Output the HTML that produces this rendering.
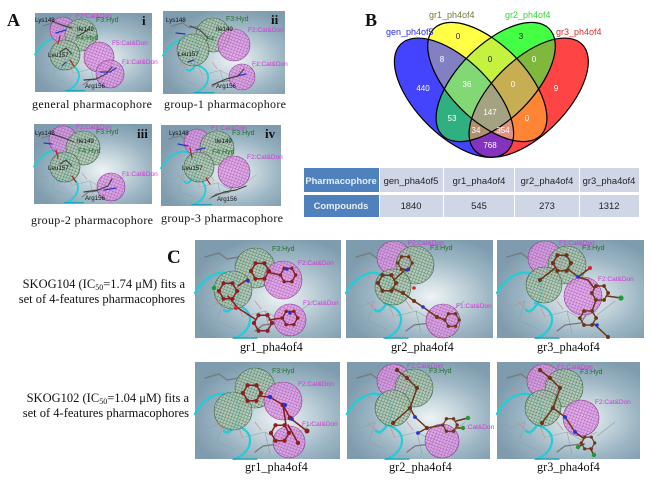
<!DOCTYPE html>
<html><head><meta charset="utf-8"><title>Pharmacophore figure</title>
<style>
html,body{margin:0;padding:0;background:#fff}
svg{display:block}
.s{font-family:"Liberation Serif",serif;fill:#111}
.a{font-family:"Liberation Sans",sans-serif}
.m{fill:#d535d5;font-size:6.5px}
.g{fill:#26702e;font-size:7px}
.k{fill:#111;font-size:6.2px}
.p{fill:url(#mp);stroke:#8f3c90;stroke-width:.6}
.h{fill:url(#mg);stroke:#44684c;stroke-width:.6}
.v{font-family:"Liberation Sans",sans-serif;font-size:8px;fill:#fff;text-anchor:middle}
.t{font-family:"Liberation Sans",sans-serif;font-size:9.4px;fill:#222;text-anchor:middle}
.th{font-family:"Liberation Sans",sans-serif;font-size:9.4px;font-weight:bold;fill:#e8eef6;text-anchor:middle}
.b{fill:none;stroke-linecap:round;stroke-linejoin:round}
</style></head><body>
<svg xmlns="http://www.w3.org/2000/svg" width="650" height="488" viewBox="0 0 650 488">
<defs>
<radialGradient id="bg" cx="58%" cy="58%" r="62%">
<stop offset="0" stop-color="#eef3f5"/><stop offset=".25" stop-color="#d0dde3"/><stop offset=".65" stop-color="#9db6c4"/><stop offset="1" stop-color="#7e9cae"/>
</radialGradient>
<pattern id="mp" width="3" height="3" patternUnits="userSpaceOnUse" patternTransform="rotate(20)">
<rect width="3" height="3" fill="#dc9fe2" fill-opacity=".8"/><path d="M0 0H3M0 0V3" stroke="#a63fae" stroke-width=".7" stroke-opacity=".85"/>
</pattern>
<pattern id="mg" width="3" height="3" patternUnits="userSpaceOnUse" patternTransform="rotate(20)">
<rect width="3" height="3" fill="#b2c8b5" fill-opacity=".78"/><path d="M0 0H3M0 0V3" stroke="#3f6e49" stroke-width=".7" stroke-opacity=".9"/>
</pattern>
<g id="rib">
<path class="b" stroke="#8fa0aa" stroke-width=".6" d="M0 60L14 66L28 60L22 80L40 88M8 80L22 92M50 75L70 70L84 78L100 70M70 70L75 92M100 74L118 60"/>
<path class="b" stroke="#d08a8a" stroke-width=".7" d="M15 25L25 38M20 60L34 72M42 62L48 76M60 60L66 68"/>
<path class="b" stroke="#777" stroke-width="1.2" d="M10 16L24 12L32 18L44 16L50 22M60 90L68 84L84 82L90 72"/>
<path class="b" stroke="#22ccd8" stroke-width="2.4" d="M0 52C8 38 22 28 34 33C46 38 48 54 38 66C34 71 31 71 29 69"/>
<path class="b" stroke="#22ccd8" stroke-width="2.2" d="M38 62C50 66 58 72 54 84C51 92 44 95 40 97"/>
<path class="b" stroke="#22a4b8" stroke-width="1.4" d="M38 97L62 97"/>
</g>
<g id="ring"><polygon class="b" stroke="currentColor" stroke-width="1.5" points="9,0 4.5,7.8 -4.5,7.8 -9,0 -4.5,-7.8 4.5,-7.8"/>
<g fill="currentColor"><circle cx="9" cy="0" r="2.1"/><circle cx="4.5" cy="7.8" r="2.1"/><circle cx="-4.5" cy="7.8" r="2.1"/><circle cx="-9" cy="0" r="2.1"/><circle cx="-4.5" cy="-7.8" r="2.1"/><circle cx="4.5" cy="-7.8" r="2.1"/></g></g>
<ellipse id="eB" cx="454" cy="97.7" rx="75.5" ry="37.5" transform="rotate(45 454 97.7)"/>
<ellipse id="eY" cx="487.3" cy="82" rx="75.5" ry="37.5" transform="rotate(45 487.3 82)"/>
<ellipse id="eG" cx="495.7" cy="82" rx="75.5" ry="37.5" transform="rotate(-45 495.7 82)"/>
<ellipse id="eR" cx="528.7" cy="97.7" rx="75.5" ry="37.5" transform="rotate(-45 528.7 97.7)"/>
<clipPath id="cB"><use href="#eB"/></clipPath>
<clipPath id="cY"><use href="#eY"/></clipPath>
<clipPath id="cG"><use href="#eG"/></clipPath>
<clipPath id="cR"><use href="#eR"/></clipPath>
</defs>
<rect width="650" height="488" fill="#fff"/>

<!-- Panel A -->
<text class="s" x="7" y="26" font-size="18" font-weight="bold">A</text>
<rect x="35" y="13" width="117" height="79" fill="url(#bg)"/>
<rect x="163" y="11" width="122" height="83" fill="url(#bg)"/>
<rect x="34" y="124" width="118" height="80" fill="url(#bg)"/>
<rect x="161" y="125" width="120" height="81" fill="url(#bg)"/>
<use href="#rib" transform="translate(35 13) scale(.8)"/>
<use href="#rib" transform="translate(163 13) scale(.82)"/>
<use href="#rib" transform="translate(34 125) scale(.8)"/>
<use href="#rib" transform="translate(161 126) scale(.81)"/>

<circle class="p" cx="63" cy="30" r="13"/><circle class="h" cx="81" cy="35" r="16"/><circle class="h" cx="65" cy="55" r="15"/><circle class="p" cx="99" cy="57" r="15"/><circle class="p" cx="110" cy="74" r="14"/>
<circle class="h" cx="213" cy="35" r="17"/><circle class="p" cx="234" cy="45" r="16"/><circle class="h" cx="193" cy="50" r="16"/><circle class="p" cx="242" cy="77" r="13"/>
<circle class="p" cx="63" cy="140" r="14"/><circle class="h" cx="83" cy="148" r="17"/><circle class="h" cx="65" cy="167" r="15"/><circle class="p" cx="111" cy="187" r="14"/>
<circle class="p" cx="197" cy="142" r="13"/><circle class="h" cx="217" cy="148" r="17"/><circle class="h" cx="199" cy="167" r="15"/><circle class="p" cx="234" cy="172" r="16"/>
<g class="b" stroke-width="1.2">
<path stroke="#2b35c8" d="M56 33L66 30M100 72L110 72L116 68M66 62L62 66M185 34L176 33M237 76L246 74M188 62L194 60M52 144L44 143M104 190L116 188M188 146L178 144M205 148L196 150"/>
<path stroke="#444" d="M52 21L62 25L72 28M78 36L88 30M60 52L66 48L72 54M84 80L96 79L106 74L112 67M190 26L200 30L208 38M212 85L226 79L238 76L244 69M52 134L64 138L74 142M60 164L66 160L72 166M84 192L98 190L108 186L112 179M212 197L224 192L236 190L246 186"/>
<path stroke="#b72020" d="M60 36L58 44M70 60L74 66M56 150L58 158M72 176L76 182M190 148L192 158M206 178L210 184"/>
</g>
<g class="a">
<text class="k" x="35" y="22">Lys148</text><text class="k" x="77" y="31">Ile149</text><text class="k" x="48" y="57">Leu157</text><text class="k" x="85" y="88">Arg156</text>
<text class="m" x="76" y="18">F2:Cat&amp;Don</text><text class="g" x="96" y="22">F3:Hyd</text><text class="g" x="76" y="40" font-size="6">F4:Hyd</text><text class="m" x="112" y="45">F5:Cat&amp;Don</text><text class="m" x="122" y="64">F1:Cat&amp;Don</text>
<text class="k" x="166" y="22">Lys148</text><text class="k" x="216" y="31">Ile149</text><text class="k" x="178" y="56">Leu157</text><text class="k" x="216" y="88">Arg156</text>
<text class="g" x="226" y="21">F3:Hyd</text><text class="m" x="248" y="32">F2:Cat&amp;Don</text><text class="g" x="206" y="41" font-size="6">F4:</text><text class="m" x="252" y="66">F1:Cat&amp;Don</text>
<text class="k" x="35" y="135">Lys148</text><text class="k" x="77" y="143">Ile149</text><text class="k" x="48" y="170">Leu157</text><text class="k" x="85" y="200">Arg156</text>
<text class="m" x="76" y="129">F2:Cat&amp;Don</text><text class="g" x="96" y="134">F3:Hyd</text><text class="g" x="78" y="153" font-size="6">F4:Hyd</text><text class="m" x="122" y="176">F1:Cat&amp;Don</text>
<text class="k" x="169" y="135">Lys148</text><text class="k" x="215" y="143">Ile149</text><text class="k" x="182" y="170">Leu157</text><text class="k" x="217" y="201">Arg156</text>
<text class="m" x="211" y="130">F1:Cat&amp;Don</text><text class="g" x="232" y="135">F3:Hyd</text><text class="g" x="212" y="154" font-size="6">F4:Hyd</text><text class="m" x="247" y="159">F2:Cat&amp;Don</text>
</g>
<text class="s" x="32" y="108" font-size="12" textLength="120">general  pharmacophore</text>
<text class="s" x="164" y="108" font-size="12" textLength="122">group-1  pharmacophore</text>
<text class="s" x="31" y="224" font-size="12" textLength="122">group-2  pharmacophore</text>
<text class="s" x="161" y="222" font-size="12" textLength="122">group-3  pharmacophore</text>
<text class="s" x="142" y="25" font-size="13" font-weight="bold">i</text>
<text class="s" x="271" y="24" font-size="13" font-weight="bold">ii</text>
<text class="s" x="137" y="138" font-size="13" font-weight="bold">iii</text>
<text class="s" x="265" y="138" font-size="13" font-weight="bold">iv</text>

<!-- Panel B -->
<text class="s" x="365" y="26" font-size="18" font-weight="bold">B</text>
<use href="#eB" fill="#4444ff"/><use href="#eY" fill="#ffff45"/><use href="#eG" fill="#44ff44"/><use href="#eR" fill="#ff4444"/>
<g clip-path="url(#cB)"><use href="#eY" fill="#8080c2"/><use href="#eG" fill="#30b080"/><use href="#eR" fill="#8434bc"/></g>
<g clip-path="url(#cY)"><use href="#eG" fill="#c4f23f"/><use href="#eR" fill="#ff8433"/></g>
<g clip-path="url(#cG)"><use href="#eR" fill="#80b83e"/></g>
<g clip-path="url(#cB)"><g clip-path="url(#cY)"><use href="#eG" fill="#82d874"/><use href="#eR" fill="#e09080"/></g><g clip-path="url(#cG)"><use href="#eR" fill="#b09070"/></g></g>
<g clip-path="url(#cY)"><g clip-path="url(#cG)"><use href="#eR" fill="#c8ae52"/></g></g>
<g clip-path="url(#cB)"><g clip-path="url(#cY)"><g clip-path="url(#cG)"><use href="#eR" fill="#a3a384"/></g></g></g>
<g fill="none" stroke="#000" stroke-width="1.2"><use href="#eB"/><use href="#eY"/><use href="#eG"/><use href="#eR"/></g>
<g class="a" font-size="9">
<text x="386" y="35" fill="#2a2ae0">gen_ph4of5</text>
<text x="429" y="18" fill="#77773a">gr1_ph4of4</text>
<text x="505" y="18" fill="#33d633">gr2_ph4of4</text>
<text x="556" y="35" fill="#e02a2a">gr3_ph4of4</text>
</g>
<g class="v">
<text x="423" y="91">440</text><text x="442" y="62">8</text><text x="467" y="87">36</text><text x="452" y="121">53</text><text x="476" y="133">34</text><text x="490" y="115">147</text><text x="503" y="133">354</text><text x="490" y="148">768</text><text x="513" y="87">0</text><text x="527" y="121">0</text><text x="534" y="62">0</text><text x="556" y="91">9</text>
<text x="490" y="62" fill="#222">0</text><text x="458" y="39" fill="#222">0</text><text x="521" y="39" fill="#222">3</text>
</g>
<rect x="304" y="168" width="75" height="24" fill="#4f81bd"/><rect x="304" y="195" width="75" height="22" fill="#4f81bd"/>
<g fill="#cfd7e7">
<rect x="380" y="168" width="63" height="24"/><rect x="444" y="168" width="70" height="24"/><rect x="515" y="168" width="64" height="24"/><rect x="580" y="168" width="59" height="24"/>
<rect x="380" y="195" width="63" height="22"/><rect x="444" y="195" width="70" height="22"/><rect x="515" y="195" width="64" height="22"/><rect x="580" y="195" width="59" height="22"/>
</g>
<text class="th" x="341" y="184">Pharmacophore</text><text class="th" x="341" y="209">Compounds</text>
<text class="t" x="411" y="184">gen_pha4of5</text><text class="t" x="479" y="184">gr1_pha4of4</text><text class="t" x="547" y="184">gr2_pha4of4</text><text class="t" x="609" y="184">gr3_pha4of4</text>
<text class="t" x="411" y="209">1840</text><text class="t" x="479" y="209">545</text><text class="t" x="547" y="209">273</text><text class="t" x="609" y="209">1312</text>

<!-- Panel C -->
<text class="s" x="167" y="263" font-size="19" font-weight="bold">C</text>
<text class="s" x="185" y="288" font-size="12.5" text-anchor="end">SKOG104 (IC<tspan font-size="8" dy="2">50</tspan><tspan dy="-2">=1.74 μM) fits a</tspan></text>
<text class="s" x="185" y="303" font-size="12.5" text-anchor="end">set of 4-features pharmacophores</text>
<text class="s" x="189" y="402" font-size="12.5" text-anchor="end">SKOG102 (IC<tspan font-size="8" dy="2">50</tspan><tspan dy="-2">=1.04 μM) fits a</tspan></text>
<text class="s" x="189" y="417" font-size="12.5" text-anchor="end">set of 4-features pharmacophores</text>

<rect x="195" y="240" width="146" height="98" fill="url(#bg)"/><rect x="346" y="240" width="147" height="98" fill="url(#bg)"/><rect x="497" y="240" width="147" height="98" fill="url(#bg)"/>
<rect x="195" y="362" width="145" height="97" fill="url(#bg)"/><rect x="347" y="362" width="143" height="97" fill="url(#bg)"/><rect x="497" y="362" width="143" height="97" fill="url(#bg)"/>
<use href="#rib" transform="translate(195 241)"/><use href="#rib" transform="translate(346 241)"/><use href="#rib" transform="translate(497 241)"/>
<use href="#rib" transform="translate(195 362)"/><use href="#rib" transform="translate(347 362)"/><use href="#rib" transform="translate(497 362)"/>

<circle class="h" cx="255" cy="268" r="20"/><circle class="h" cx="233" cy="290" r="19"/><circle class="p" cx="283" cy="280" r="19"/><circle class="p" cx="290" cy="320" r="16"/>
<circle class="p" cx="394" cy="258" r="17"/><circle class="h" cx="415" cy="265" r="19"/><circle class="h" cx="393" cy="287" r="18"/><circle class="p" cx="443" cy="321" r="17"/>
<circle class="p" cx="545" cy="258" r="17"/><circle class="h" cx="567" cy="265" r="19"/><circle class="h" cx="544" cy="285" r="18"/><circle class="p" cx="583" cy="296" r="19"/>
<circle class="h" cx="255" cy="388" r="20"/><circle class="h" cx="233" cy="411" r="19"/><circle class="p" cx="283" cy="401" r="19"/><circle class="p" cx="289" cy="442" r="16"/>
<circle class="p" cx="394" cy="381" r="17"/><circle class="h" cx="414" cy="388" r="19"/><circle class="h" cx="393" cy="408" r="18"/><circle class="p" cx="442" cy="441" r="17"/>
<circle class="p" cx="544" cy="381" r="17"/><circle class="h" cx="564" cy="388" r="19"/><circle class="h" cx="543" cy="408" r="18"/><circle class="p" cx="581" cy="418" r="18"/>

<!-- molecules -->
<g color="#8b1f1f">
<g class="b" stroke="#8b1f1f" stroke-width="1.5"><path d="M267 272L280 275M228 296L238 308L255 319M269 320L282 318M248 279L238 286"/></g>
<use href="#ring" transform="translate(260 271)"/><use href="#ring" transform="translate(288 275) scale(.85)"/><use href="#ring" transform="translate(228 291)"/><use href="#ring" transform="translate(263 323)"/><use href="#ring" transform="translate(290 318) scale(.85)"/>
<circle cx="214" cy="288" r="2.2" fill="#1f9a30"/><circle cx="248" cy="281" r="1.8" fill="#2233dd"/><circle cx="236" cy="308" r="2" fill="#dd2222"/><circle cx="287" cy="269" r="1.8" fill="#2233dd"/><circle cx="290" cy="313" r="1.8" fill="#2233dd"/>
</g>
<g color="#6d3418">
<g class="b" stroke="#6d3418" stroke-width="1.5"><path d="M405 270L394 280M392 288L403 293L414 301L423 307L437 317L445 320"/></g>
<use href="#ring" transform="translate(405 263) scale(.8)"/><use href="#ring" transform="translate(387 283)"/><use href="#ring" transform="translate(452 320) scale(.8)"/>
<circle cx="423" cy="307" r="1.8" fill="#2233dd"/><circle cx="407" cy="270" r="1.8" fill="#2233dd"/><circle cx="414" cy="288" r="1.8" fill="#dd2222"/><circle cx="403" cy="293" r="2" fill="#6d3418"/><circle cx="414" cy="301" r="2" fill="#6d3418"/><circle cx="437" cy="317" r="2" fill="#6d3418"/>
</g>
<g color="#6d3418">
<g class="b" stroke="#6d3418" stroke-width="1.5"><path d="M568 269L578 277L588 280L594 288M555 268L540 280M578 277L590 268M607 296L621 298M596 300L592 311M594 324L608 337"/></g>
<use href="#ring" transform="translate(562 263)"/><use href="#ring" transform="translate(600 293) scale(.9)"/><use href="#ring" transform="translate(588 318) scale(.9)"/>
<circle cx="540" cy="280" r="2.1" fill="#6d3418"/><circle cx="590" cy="268" r="2" fill="#dd2222"/><circle cx="621" cy="298" r="2.6" fill="#1f9a30"/><circle cx="578" cy="277" r="1.8" fill="#2233dd"/><circle cx="597" cy="325" r="1.8" fill="#2233dd"/><circle cx="608" cy="337" r="2" fill="#6d3418"/>
</g>
<g color="#8b1f1f">
<g class="b" stroke="#8b1f1f" stroke-width="1.6"><path d="M258 396L270 397L283 405L290 418L307 431M283 405L286 425M288 425L298 443"/></g>
<use href="#ring" transform="translate(252 393)"/><use href="#ring" transform="translate(280 433)"/>
<circle cx="270" cy="397" r="2.1" fill="#2233dd"/><circle cx="283" cy="405" r="2.4" fill="#8b1f1f"/><circle cx="290" cy="418" r="2.4" fill="#8b1f1f"/><circle cx="307" cy="431" r="2.5" fill="#8b1f1f"/><circle cx="298" cy="443" r="2.1" fill="#8b1f1f"/><circle cx="285" cy="405" r="2" fill="#2233dd"/><circle cx="292" cy="419" r="1.9" fill="#2233dd"/>
</g>
<g color="#6d3418">
<g class="b" stroke="#6d3418" stroke-width="1.5"><path d="M397 370L407 378L417 388L410 408L393 423M410 408L415 417L427 428L443 425M456 421L468 418M456 428L463 428M427 428L418 433"/></g>
<g fill="#6d3418"><circle cx="397" cy="370" r="2.1"/><circle cx="407" cy="378" r="2.1"/><circle cx="417" cy="388" r="2.1"/><circle cx="410" cy="408" r="2.1"/><circle cx="393" cy="423" r="2.1"/><circle cx="427" cy="428" r="2.1"/></g><circle cx="415" cy="417" r="1.9" fill="#2233dd"/><circle cx="418" cy="433" r="1.9" fill="#2233dd"/>
<use href="#ring" transform="translate(450 425) scale(.8)"/><circle cx="468" cy="418" r="2.2" fill="#1f9a30"/><circle cx="463" cy="428" r="2.2" fill="#1f9a30"/>
</g>
<g color="#6d3418">
<g class="b" stroke="#6d3418" stroke-width="1.5"><path d="M540 370L550 378L560 388L553 408L542 423M553 408L565 417L575 432L583 438M578 447L584 444M594 455L590 448"/></g>
<g fill="#6d3418"><circle cx="540" cy="370" r="2.1"/><circle cx="550" cy="378" r="2.1"/><circle cx="560" cy="388" r="2.1"/><circle cx="553" cy="408" r="2.1"/><circle cx="542" cy="423" r="2.1"/></g><circle cx="565" cy="417" r="1.9" fill="#2233dd"/><circle cx="575" cy="432" r="1.9" fill="#2233dd"/>
<use href="#ring" transform="translate(588 443) scale(.75)"/><circle cx="578" cy="447" r="2.2" fill="#1f9a30"/><circle cx="594" cy="455" r="2.2" fill="#1f9a30"/>
</g>

<g class="a">
<text class="g" x="272" y="251" font-size="8">F3:Hyd</text><text class="m" x="298" y="265" font-size="7.5">F2:Cat&amp;Don</text><text class="m" x="303" y="305">F1:Cat&amp;Don</text>
<text class="m" x="408" y="245">F2:Cat&amp;Don</text><text class="g" x="430" y="250">F3:Hyd</text><text class="m" x="456" y="308">F1:Cat&amp;Don</text>
<text class="m" x="559" y="245">F1:Cat&amp;Don</text><text class="g" x="582" y="250">F3:Hyd</text><text class="m" x="598" y="281" font-size="7">F2:Cat&amp;Don</text>
<text class="g" x="272" y="373" font-size="8">F3:Hyd</text><text class="m" x="298" y="386" font-size="7.5">F2:Cat&amp;Don</text><text class="m" x="302" y="426">F1:Cat&amp;Don</text>
<text class="m" x="407" y="368">F2:Cat&amp;Don</text><text class="g" x="429" y="373">F3:Hyd</text><text class="m" x="466" y="429">:Cat&amp;Don</text>
<text class="m" x="557" y="369">F1:Cat&amp;Don</text><text class="g" x="580" y="374">F3:Hyd</text><text class="m" x="595" y="404">F2:Cat&amp;Don</text>
</g>
<g class="s" font-size="12.3">
<text x="240" y="351">gr1_pha4of4</text><text x="391" y="351">gr2_pha4of4</text><text x="537" y="351">gr3_pha4of4</text>
<text x="245" y="471">gr1_pha4of4</text><text x="389" y="471">gr2_pha4of4</text><text x="537" y="471">gr3_pha4of4</text>
</g>
</svg>
</body></html>
